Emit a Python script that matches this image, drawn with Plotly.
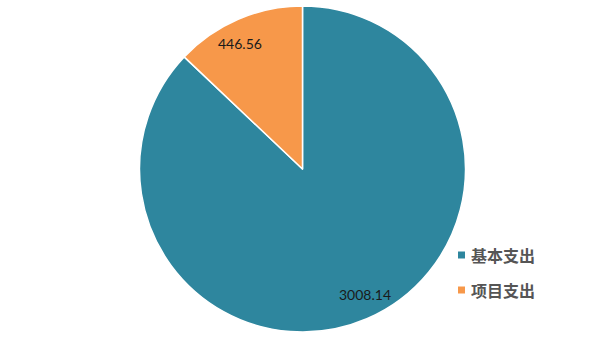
import math
import plotly.graph_objects as go

categories = ["基本支出", "项目支出"]
values = [3008.14, 446.56]
colors = ["#2E869E", "#F7984A"]

W, H = 605, 340
MT, MB = 6, 8
PH = H - MT - MB
R = 163

fig = go.Figure()
fig.add_trace(go.Pie(
    labels=categories,
    values=values,
    sort=False,
    direction="clockwise",
    rotation=0,
    marker=dict(colors=colors, line=dict(color="#FFFFFF", width=1.5)),
    textinfo="none",
    showlegend=False,
    hoverinfo="label+value+percent",
))

# value labels placed along each slice's mid-angle
total = sum(values)
cum = 0.0
for v in values:
    mid = (cum + v / 2) / total * 360 - 3  # degrees clockwise from top
    cum += v
    rr = 0.86 * R
    dx = rr * math.sin(math.radians(mid))
    dy = rr * math.cos(math.radians(mid))
    fig.add_annotation(xref="paper", yref="paper",
                       x=0.5 + dx / W, y=0.5 + dy / PH,
                       xanchor="center", yanchor="middle", showarrow=False,
                       text=f"{v:.2f}",
                       font=dict(family="Lato", size=14, color="#1a1a1a"))

# legend drawn manually
legend_y = [255, 290]
for cat, col, yy in zip(categories, colors, legend_y):
    yp = (H - MB - yy) / PH
    fig.add_shape(type="rect", xref="paper", yref="paper",
                  x0=458 / W, x1=465 / W, y0=yp - 3.5 / PH, y1=yp + 3.5 / PH,
                  fillcolor=col, line=dict(width=0))
    fig.add_annotation(xref="paper", yref="paper", x=469 / W, y=yp,
                       xanchor="left", yanchor="middle", showarrow=False,
                       text="<b>" + cat + "</b>",
                       font=dict(family="Noto Sans CJK SC", size=16, color="#555555"))

fig.update_layout(
    width=W, height=H,
    margin=dict(l=0, r=0, t=MT, b=MB),
    paper_bgcolor="#FFFFFF", plot_bgcolor="#FFFFFF",
)
fig.write_html("out.html")
